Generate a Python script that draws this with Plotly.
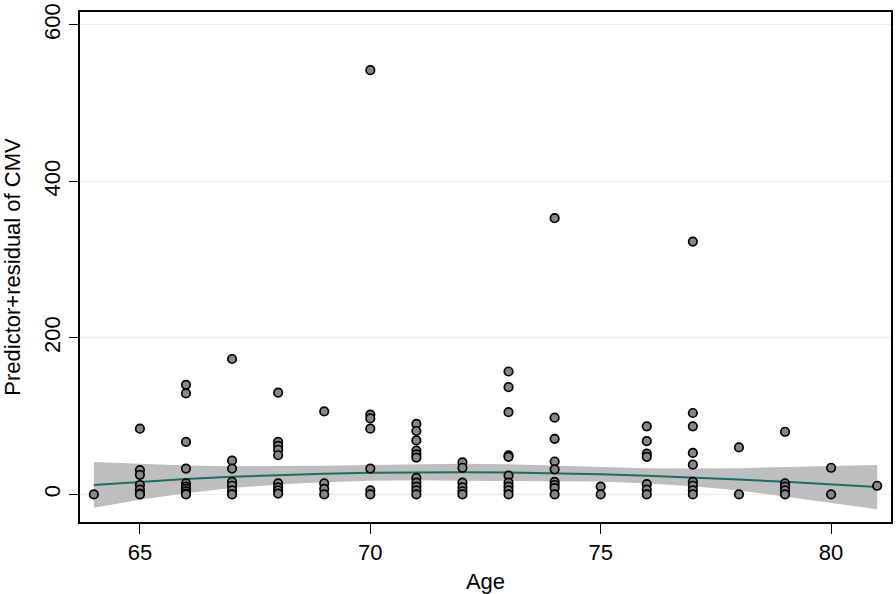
import plotly.graph_objects as go

# Scatter data: age -> component-plus-residual values
age_pts = {
    64: [0],
    65: [84, 31, 25, 12, 6, 1, 0],
    66: [140, 129, 67, 33, 14, 10, 7, 4, 1, 0],
    67: [173, 43, 33, 16, 11, 5, 0],
    68: [130, 67, 62, 57, 50, 14, 9, 5, 1],
    69: [106, 14, 7, 0],
    70: [542, 102, 97, 84, 33, 5, 0],
    71: [90, 81, 69, 56, 51, 47, 21, 15, 10, 5, 0],
    72: [41, 34, 15, 9, 4, 0],
    73: [157, 137, 105, 50, 48, 24, 15, 10, 5, 0],
    74: [353, 98, 71, 42, 32, 16, 12, 8, 0],
    75: [10, 0],
    76: [87, 68, 52, 48, 13, 6, 0],
    77: [323, 104, 87, 53, 38, 16, 11, 5, 0],
    78: [60, 0],
    79: [80, 14, 10, 5, 0],
    80: [34, 0],
    81: [11],
}
x_pts = [a for a, vs in age_pts.items() for _ in vs]
y_pts = [v for vs in age_pts.values() for v in vs]

# Fitted curve and confidence band
fit_age = [64, 65, 66, 67, 68, 69, 70, 71, 72, 73, 74, 75, 76, 77, 78, 79, 80, 81]
fit_val = [12, 16, 19.5, 22.5, 24.8, 26.5, 27.6, 28.2, 28.3, 27.9, 27, 25.6, 23.8, 21.6, 19, 16.1, 12.9, 9.5]
ci_up = [41.5, 39, 37, 36, 36, 36.5, 37.5, 38.5, 39, 38.5, 37, 35, 33.5, 33, 33.5, 35, 36, 37.5]
ci_lo = [-17, -7, 1.5, 8, 12.5, 15.5, 17.5, 18, 17.5, 17, 17, 16.5, 14, 10.5, 5, -3, -10.5, -19]

x_ticks = [65, 70, 75, 80]
y_ticks = [0, 200, 400, 600]

fig = go.Figure()
fig.add_trace(go.Scatter(x=fit_age, y=ci_lo, mode="lines", line=dict(width=0),
                         showlegend=False, hoverinfo="skip"))
fig.add_trace(go.Scatter(x=fit_age, y=ci_up, mode="lines", line=dict(width=0),
                         fill="tonexty", fillcolor="rgb(190,190,190)",
                         showlegend=False, hoverinfo="skip"))
fig.add_trace(go.Scatter(x=fit_age, y=fit_val, mode="lines",
                         line=dict(color="rgb(26,110,98)", width=2), showlegend=False))
fig.add_trace(go.Scatter(x=x_pts, y=y_pts, mode="markers",
                         marker=dict(size=8.5, color="rgb(135,135,135)",
                                     line=dict(color="black", width=1.7)),
                         showlegend=False))

font = "Liberation Sans, Arial, sans-serif"
fig.update_layout(
    width=896, height=594,
    margin=dict(l=80, r=3, t=5, b=72),
    paper_bgcolor="white", plot_bgcolor="white",
    font=dict(family=font, color="black", size=22),
    xaxis=dict(range=[63.7, 81.3], tickvals=x_ticks, showgrid=False, zeroline=False,
               showline=True, linecolor="black", linewidth=1.5, mirror=True,
               ticks="outside", ticklen=10, tickwidth=1.3, tickcolor="black",
               tickfont=dict(size=22),
               title=dict(text="Age", font=dict(size=22), standoff=10)),
    yaxis=dict(range=[-35.3, 616.4], tickvals=y_ticks, showgrid=True,
               gridcolor="rgb(228,238,238)", gridwidth=1.3, zeroline=False,
               showline=True, linecolor="black", linewidth=1.5, mirror=True,
               ticks="outside", ticklen=9, tickwidth=1.3, tickcolor="black",
               tickangle=-90, tickfont=dict(size=22), ticklabeloverflow="allow",
               title=dict(text="Predictor+residual of CMV", font=dict(size=22), standoff=18)),
)
fig.write_html("out.html", post_script="document.body.style.margin='0';",
               config={"displayModeBar": False})
